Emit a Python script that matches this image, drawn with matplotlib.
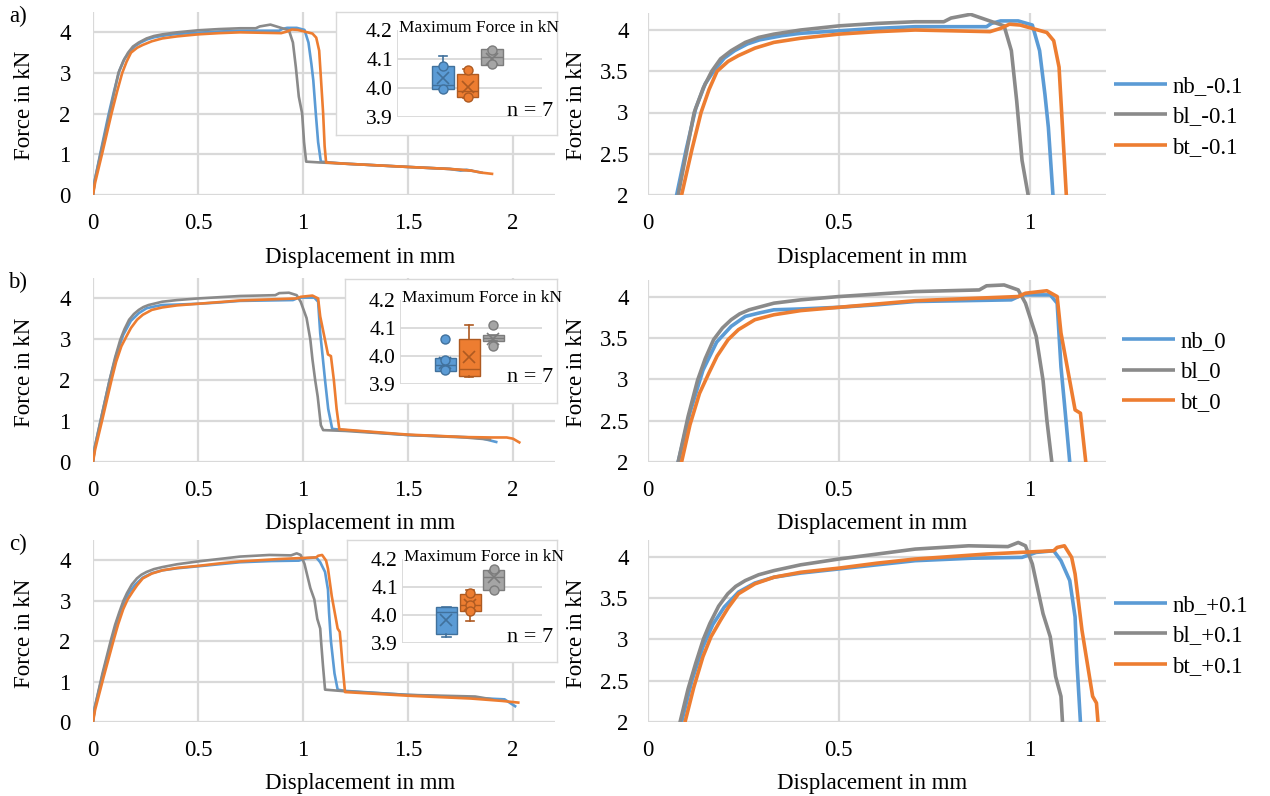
import matplotlib
matplotlib.use("Agg")
import matplotlib.pyplot as plt

plt.rcParams['font.family'] = ['Liberation Serif', 'DejaVu Serif']

# ---------------- data ----------------
row_labels = ['a)', 'b)', 'c)']
legend_labels = [['nb_-0.1', 'bl_-0.1', 'bt_-0.1'],
                 ['nb_0', 'bl_0', 'bt_0'],
                 ['nb_+0.1', 'bl_+0.1', 'bt_+0.1']]

# row a (-0.1): displacement in mm, force in kN
a_nb_x = [0, 0.008, 0.04, 0.075, 0.10, 0.125, 0.15, 0.172, 0.20, 0.227, 0.26, 0.292, 0.35, 0.40, 0.5, 0.6, 0.70, 0.887, 0.90, 0.924, 0.97, 1.007, 1.026, 1.04, 1.049, 1.061, 1.072, 1.085, 1.2, 1.5, 1.7, 1.75, 1.78, 1.85]
a_nb_y = [0, 0.35, 1.15, 2.0, 2.55, 3.05, 3.35, 3.5, 3.66, 3.75, 3.83, 3.88, 3.93, 3.96, 3.99, 4.02, 4.04, 4.04, 4.08, 4.11, 4.11, 4.06, 3.75, 3.22, 2.82, 2.0, 1.3, 0.82, 0.77, 0.69, 0.64, 0.60, 0.62, 0.55]
a_bl_x = [0, 0.008, 0.04, 0.079, 0.10, 0.121, 0.145, 0.167, 0.19, 0.218, 0.255, 0.29, 0.33, 0.40, 0.5, 0.6, 0.70, 0.775, 0.794, 0.845, 0.933, 0.952, 0.966, 0.98, 0.996, 1.005, 1.015, 1.08, 1.2, 1.5, 1.7, 1.8]
a_bl_y = [0, 0.35, 1.1, 2.0, 2.5, 3.0, 3.3, 3.5, 3.65, 3.75, 3.85, 3.91, 3.95, 4.0, 4.05, 4.08, 4.10, 4.10, 4.145, 4.19, 4.05, 3.75, 3.14, 2.42, 2.0, 1.3, 0.82, 0.80, 0.77, 0.69, 0.64, 0.60]
a_bt_x = [0, 0.01, 0.045, 0.088, 0.115, 0.139, 0.16, 0.181, 0.21, 0.237, 0.28, 0.33, 0.40, 0.5, 0.6, 0.70, 0.896, 0.924, 0.947, 0.975, 1.045, 1.063, 1.077, 1.086, 1.096, 1.103, 1.11, 1.2, 1.5, 1.7, 1.8, 1.85, 1.9]
a_bt_y = [0, 0.3, 1.05, 2.0, 2.55, 3.0, 3.28, 3.5, 3.62, 3.69, 3.78, 3.85, 3.9, 3.95, 3.98, 4.0, 3.98, 4.02, 4.07, 4.06, 3.97, 3.87, 3.55, 2.82, 2.0, 1.2, 0.80, 0.77, 0.69, 0.64, 0.60, 0.55, 0.52]

# row b (0)
b_nb_x = [0, 0.008, 0.04, 0.079, 0.11, 0.144, 0.18, 0.218, 0.255, 0.29, 0.33, 0.40, 0.5, 0.6, 0.70, 0.952, 0.98, 1.054, 1.072, 1.082, 1.091, 1.105, 1.12, 1.139, 1.2, 1.5, 1.77, 1.85, 1.92]
b_nb_y = [0, 0.35, 1.1, 2.0, 2.6, 3.11, 3.45, 3.64, 3.76, 3.80, 3.84, 3.85, 3.87, 3.90, 3.94, 3.96, 4.02, 4.02, 3.92, 3.15, 2.71, 2.0, 1.3, 0.81, 0.78, 0.66, 0.61, 0.58, 0.49]
b_bl_x = [0, 0.008, 0.04, 0.079, 0.105, 0.13, 0.15, 0.172, 0.195, 0.218, 0.24, 0.265, 0.33, 0.40, 0.5, 0.6, 0.70, 0.868, 0.887, 0.933, 0.97, 0.989, 1.017, 1.035, 1.045, 1.058, 1.07, 1.085, 1.096, 1.2, 1.5, 1.77, 1.89]
b_bl_y = [0, 0.35, 1.1, 2.0, 2.55, 2.99, 3.25, 3.48, 3.62, 3.72, 3.79, 3.84, 3.92, 3.96, 4.0, 4.03, 4.06, 4.08, 4.13, 4.14, 4.08, 3.92, 3.52, 2.99, 2.51, 2.0, 1.6, 0.9, 0.78, 0.76, 0.66, 0.60, 0.55]
b_bt_x = [0, 0.01, 0.045, 0.088, 0.11, 0.135, 0.16, 0.181, 0.21, 0.237, 0.28, 0.33, 0.40, 0.5, 0.6, 0.70, 0.97, 0.989, 1.045, 1.072, 1.082, 1.119, 1.133, 1.147, 1.16, 1.173, 1.2, 1.5, 1.77, 1.9, 1.97, 2.0, 2.03]
b_bt_y = [0, 0.3, 1.05, 2.0, 2.45, 2.83, 3.08, 3.28, 3.48, 3.6, 3.72, 3.78, 3.83, 3.87, 3.91, 3.95, 4.0, 4.04, 4.07, 4.0, 3.56, 2.63, 2.59, 2.0, 1.3, 0.80, 0.79, 0.67, 0.61, 0.60, 0.60, 0.57, 0.48]

# row c (+0.1)
c_nb_x = [0, 0.008, 0.045, 0.088, 0.115, 0.144, 0.17, 0.2, 0.237, 0.28, 0.33, 0.40, 0.5, 0.6, 0.70, 0.85, 0.98, 1.017, 1.063, 1.082, 1.105, 1.119, 1.124, 1.133, 1.15, 1.165, 1.2, 1.5, 1.8, 1.96, 2.01]
c_nb_y = [0, 0.35, 1.15, 2.0, 2.5, 2.91, 3.18, 3.39, 3.57, 3.68, 3.75, 3.80, 3.85, 3.90, 3.95, 3.98, 3.99, 4.05, 4.07, 3.95, 3.71, 3.27, 2.71, 2.0, 1.2, 0.80, 0.77, 0.67, 0.60, 0.56, 0.39]
c_bl_x = [0, 0.008, 0.045, 0.084, 0.105, 0.125, 0.145, 0.162, 0.185, 0.209, 0.23, 0.255, 0.29, 0.33, 0.40, 0.5, 0.6, 0.70, 0.84, 0.943, 0.97, 0.989, 1.007, 1.035, 1.054, 1.068, 1.082, 1.086, 1.095, 1.105, 1.2, 1.5, 1.82, 1.9]
c_bl_y = [0, 0.35, 1.2, 2.0, 2.4, 2.71, 3.0, 3.19, 3.4, 3.55, 3.64, 3.71, 3.78, 3.83, 3.90, 3.97, 4.03, 4.09, 4.13, 4.12, 4.17, 4.13, 3.91, 3.31, 3.03, 2.55, 2.31, 2.0, 1.4, 0.80, 0.76, 0.67, 0.63, 0.56]
c_bt_x = [0, 0.01, 0.05, 0.097, 0.12, 0.144, 0.165, 0.19, 0.21, 0.237, 0.28, 0.33, 0.40, 0.5, 0.6, 0.70, 0.887, 1.063, 1.072, 1.091, 1.11, 1.119, 1.137, 1.165, 1.175, 1.179, 1.19, 1.2, 1.5, 1.8, 1.95, 2.025]
c_bt_y = [0, 0.3, 1.1, 2.0, 2.42, 2.79, 3.03, 3.23, 3.38, 3.55, 3.67, 3.75, 3.81, 3.86, 3.92, 3.97, 4.03, 4.07, 4.11, 4.13, 3.99, 3.79, 3.11, 2.31, 2.23, 2.0, 1.3, 0.74, 0.65, 0.58, 0.52, 0.48]

# inset box plots (order: nb, bt, bl) -- maximum force in kN, n = 7
a_q1 = [3.995, 3.970, 4.081]; a_med = [4.009, 3.990, 4.106]; a_q3 = [4.075, 4.050, 4.134]
a_lo = [3.995, 3.965, 4.081]; a_hi = [4.111, 4.066, 4.134]; a_mean = [4.035, 4.005, 4.100]
a_pts = [[4.077, 3.995], [4.061, 3.968], [4.130, 4.082]]
b_q1 = [3.945, 3.927, 4.054]; b_med = [3.968, 3.954, 4.065]; b_q3 = [3.992, 4.060, 4.074]
b_lo = [3.945, 3.925, 4.054]; b_hi = [3.992, 4.112, 4.074]; b_mean = [3.974, 3.995, 4.062]
b_pts = [[4.062, 3.986, 3.950], [], [4.112, 4.035]]
c_q1 = [3.931, 4.013, 4.091]; c_med = [4.009, 4.036, 4.135]; c_q3 = [4.028, 4.074, 4.162]
c_lo = [3.923, 3.978, 4.091]; c_hi = [4.030, 4.088, 4.162]; c_mean = [3.981, 4.035, 4.135]
c_pts = [[], [4.077, 4.036, 4.013], [4.164, 4.090]]

inset_yticks = [3.9, 4.0, 4.1, 4.2]
inset_yticklabels = ['3.9', '4.0', '4.1', '4.2']
left_yticks = [0, 1, 2, 3, 4]
left_xticks = [0, 0.5, 1, 1.5, 2]
left_xticklabels = ['0', '0.5', '1', '1.5', '2']
right_yticks = [2, 2.5, 3, 3.5, 4]
right_yticklabels = ['2', '2.5', '3', '3.5', '4']
right_xticks = [0, 0.5, 1]
right_xticklabels = ['0', '0.5', '1']

rows = [
    dict(nb=(a_nb_x, a_nb_y), bl=(a_bl_x, a_bl_y), bt=(a_bt_x, a_bt_y),
         q1=a_q1, med=a_med, q3=a_q3, lo=a_lo, hi=a_hi, mean=a_mean, pts=a_pts),
    dict(nb=(b_nb_x, b_nb_y), bl=(b_bl_x, b_bl_y), bt=(b_bt_x, b_bt_y),
         q1=b_q1, med=b_med, q3=b_q3, lo=b_lo, hi=b_hi, mean=b_mean, pts=b_pts),
    dict(nb=(c_nb_x, c_nb_y), bl=(c_bl_x, c_bl_y), bt=(c_bt_x, c_bt_y),
         q1=c_q1, med=c_med, q3=c_q3, lo=c_lo, hi=c_hi, mean=c_mean, pts=c_pts),
]

# ---------------- styling / layout ----------------
W, H = 1270, 796
fig = plt.figure(figsize=(W / 100, H / 100), dpi=100)
fig.patch.set_facecolor('white')

COL = {'nb': '#5B9BD5', 'bl': '#8A8A8A', 'bt': '#ED7D31'}
BOXFACE = ['#5B9BD5', '#ED7D31', '#A5A5A5']
BOXEDGE = ['#41719C', '#AE5A21', '#7C7C7C']
GRID = '#D9D9D9'
FS = 16.5

def ax_px(x0, y0, x1, y1, **kw):
    return fig.add_axes([x0 / W, 1 - y1 / H, (x1 - x0) / W, (y1 - y0) / H], **kw)

def style(ax):
    for s in ax.spines.values():
        s.set_visible(False)
    ax.grid(True, color=GRID, lw=1.6, zorder=0)
    ax.set_axisbelow(True)
    ax.tick_params(length=0, labelsize=FS, pad=13)

row_top_left = [12, 278, 540]
row_bot = [195, 462, 722]
row_top_right = [13.5, 280, 540]
insets = [((336, 12, 557, 135), (397, 30, 542, 117)),
          ((345, 279, 557, 403), (400, 300, 542, 384)),
          ((347, 540, 557, 662), (402, 559, 542, 643))]
legend_y = [117, 372, 636]
legend_x = [1114, 1122, 1114]

for i, r in enumerate(rows):
    # left full panel
    axl = ax_px(93, row_top_left[i], 555, row_bot[i])
    style(axl)
    for k in ['nb', 'bl', 'bt']:
        axl.plot(r[k][0], r[k][1], color=COL[k], lw=1.9, solid_joinstyle='round', zorder=3)
    axl.set_xlim(0, 2.2)
    axl.set_ylim(0, 4.5)
    axl.set_xticks(left_xticks)
    axl.set_xticklabels(left_xticklabels)
    axl.set_yticks(left_yticks)
    axl.set_yticklabels([str(v) for v in left_yticks])
    axl.tick_params(axis='y', pad=16)

    # right zoomed panel
    axr = ax_px(648, row_top_right[i], 1106, row_bot[i])
    style(axr)
    handles = []
    for k in ['nb', 'bl', 'bt']:
        ln, = axr.plot(r[k][0], r[k][1], color=COL[k], lw=2.6, solid_joinstyle='round',
                       solid_capstyle='butt', zorder=3)
        handles.append(ln)
    axr.set_xlim(0, 1.2)
    axr.set_ylim(2, 4.2)
    axr.set_xticks(right_xticks)
    axr.set_xticklabels(right_xticklabels)
    axr.set_yticks(right_yticks)
    axr.set_yticklabels(right_yticklabels)
    axr.tick_params(axis='y', pad=14)

    fig.legend(handles, legend_labels[i], loc='center left',
               bbox_to_anchor=(legend_x[i] / W, 1 - legend_y[i] / H),
               frameon=False, fontsize=FS, handlelength=2.3, handletextpad=0.25,
               labelspacing=0.42, borderaxespad=0, borderpad=0)

    # axis labels
    yc = (row_top_left[i] + row_bot[i]) / 2 + 2
    fig.text(25 / W, 1 - yc / H, 'Force in kN', rotation=90, ha='center', va='center', fontsize=FS)
    fig.text(577 / W, 1 - yc / H, 'Force in kN', rotation=90, ha='center', va='center', fontsize=FS)
    xly = row_bot[i] + 62
    fig.text(360 / W, 1 - xly / H, 'Displacement in mm', ha='center', va='center', fontsize=FS)
    fig.text(872 / W, 1 - xly / H, 'Displacement in mm', ha='center', va='center', fontsize=FS)
    fig.text(18 / W, 1 - (row_top_left[i] + 4) / H, row_labels[i], ha='center', va='center', fontsize=FS)

    # inset
    (ox0, oy0, ox1, oy1), (ix0, iy0, ix1, iy1) = insets[i]
    axo = ax_px(ox0, oy0, ox1, oy1, zorder=5)
    axo.set_xticks([]); axo.set_yticks([])
    axo.set_facecolor('white')
    for s in axo.spines.values():
        s.set_color('#D9D9D9'); s.set_linewidth(1.0)
    axi = ax_px(ix0, iy0, ix1, iy1, zorder=6)
    axi.patch.set_alpha(0)
    for s in axi.spines.values():
        s.set_visible(False)
    for v in inset_yticks[:-1]:
        axi.axhline(v, color=GRID, lw=1.3, zorder=0)
    axi.axvline(-0.88, color=GRID, lw=1.3, zorder=0)
    for j in range(3):
        st = dict(med=r['med'][j], q1=r['q1'][j], q3=r['q3'][j],
                  whislo=r['lo'][j], whishi=r['hi'][j], mean=r['mean'][j], fliers=[])
        axi.bxp([st], positions=[j + 1], widths=0.88, patch_artist=True, showmeans=True,
                showfliers=False,
                boxprops=dict(facecolor=BOXFACE[j], edgecolor=BOXEDGE[j], lw=1.0),
                medianprops=dict(color=BOXEDGE[j], lw=1.0),
                whiskerprops=dict(color=BOXEDGE[j], lw=1.2),
                capprops=dict(color=BOXEDGE[j], lw=1.2),
                capwidths=0.35,
                meanprops=dict(marker='x', markeredgecolor=BOXEDGE[j], markersize=9, markeredgewidth=1.2))
        if r['pts'][j]:
            axi.plot([j + 1] * len(r['pts'][j]), r['pts'][j], 'o', ms=6.5,
                     markerfacecolor=BOXFACE[j], markeredgecolor=BOXEDGE[j], mew=1.0, zorder=4)
    axi.set_xlim(-0.88, 5.04)
    axi.set_ylim(3.9, 4.2)
    axi.set_xticks([])
    axi.set_yticks(inset_yticks)
    axi.set_yticklabels(inset_yticklabels)
    axi.tick_params(axis='y', length=0, labelsize=15.5, pad=3)
    fig.text((ix0 + 2) / W, 1 - (iy0 - 2) / H, 'Maximum Force in kN', ha='left', va='center',
             fontsize=12.5, zorder=7)
    fig.text(553 / W, 1 - (iy1 - 6) / H, 'n = 7', ha='right', va='center', fontsize=16, zorder=7)

fig.savefig('out.png', dpi=100, facecolor='white')
